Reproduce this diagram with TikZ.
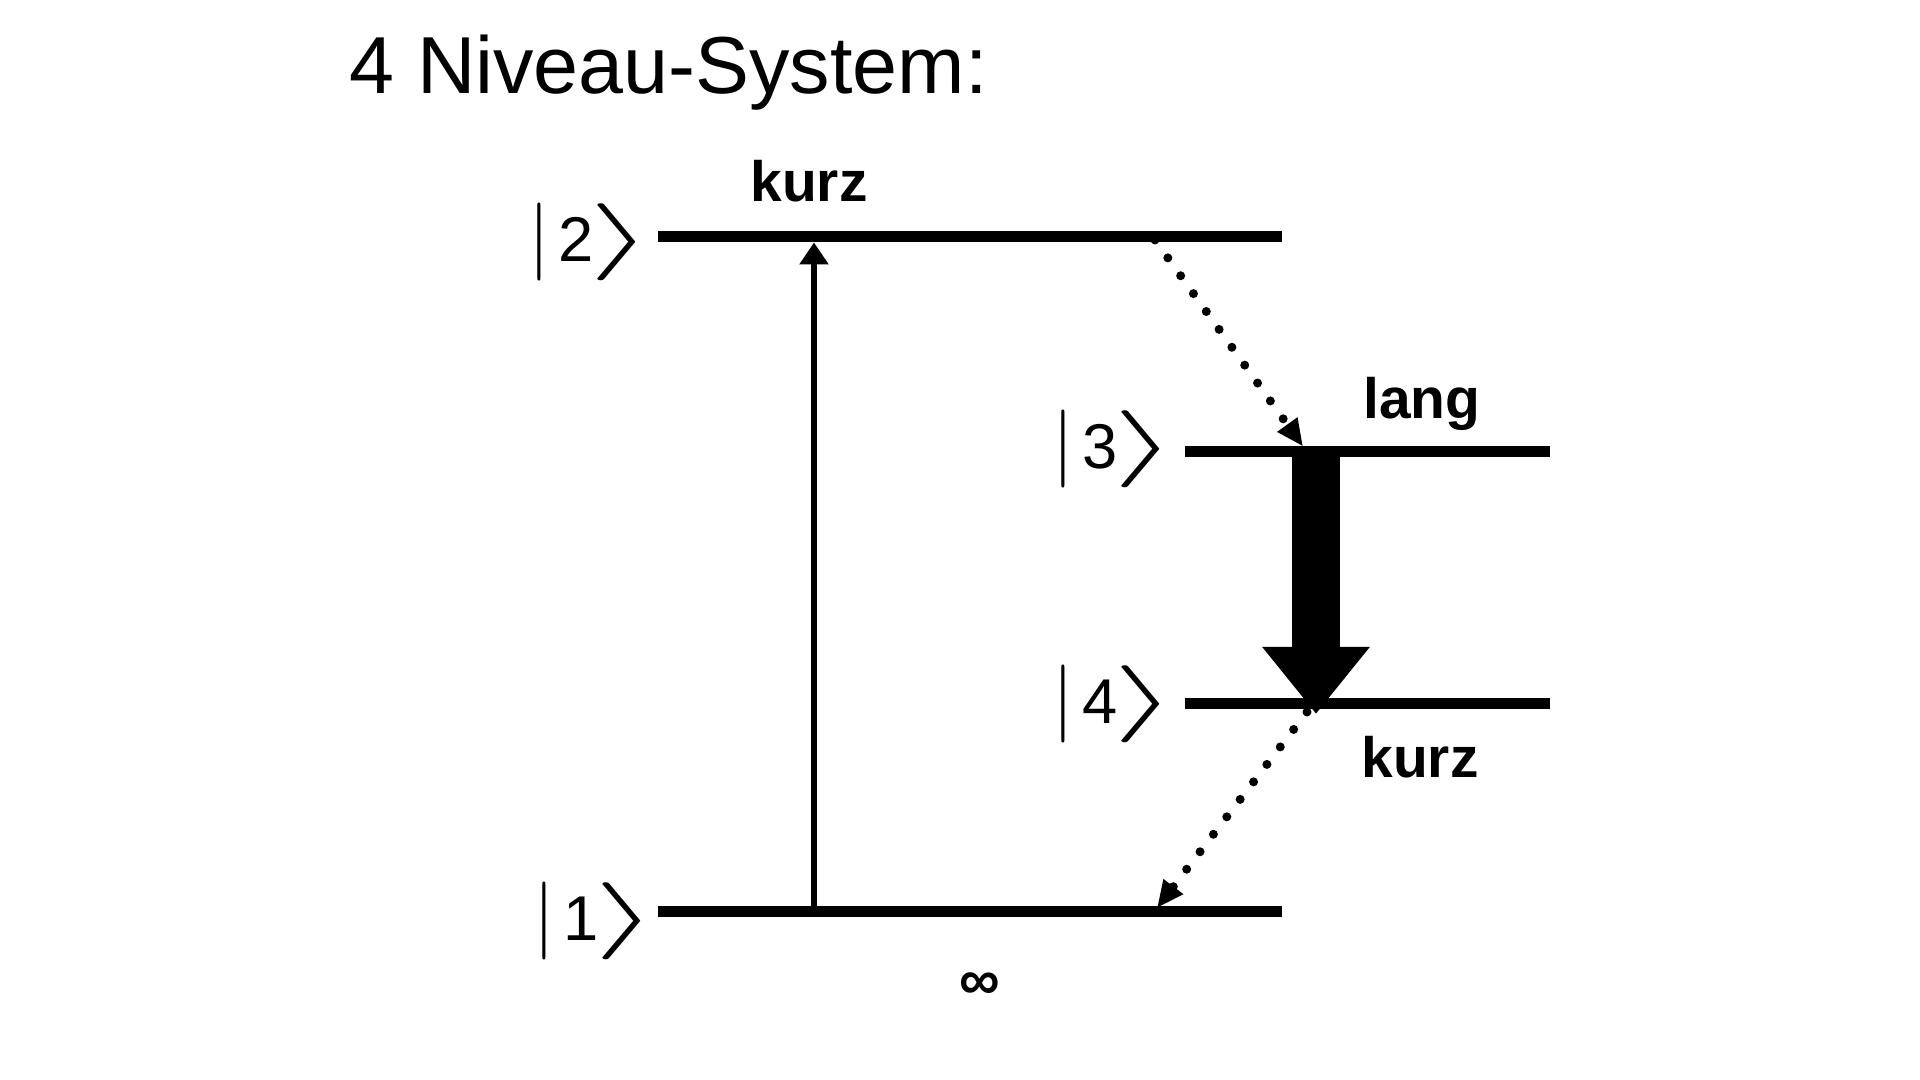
\documentclass[tikz,border=0pt]{standalone}
\usepackage{fontspec}
\setmainfont{Liberation Sans}
\usepackage{graphicx}
\usetikzlibrary{arrows.meta}
\newcommand{\ketsym}[1]{\resizebox*{!}{0.78cm}{$|$}\kern0.08cm#1\kern-0.05cm\resizebox*{0.66cm}{0.77cm}{$\rangle$}}
\begin{document}
\begin{tikzpicture}[x=1cm,y=1cm,
  lvline/.style={line width=0.11cm},
  ket/.style={inner sep=0pt, font=\fontsize{18}{22}\selectfont},
  lbl/.style={inner sep=0pt, anchor=base, font=\fontsize{16.2}{20}\selectfont\bfseries},
  decay/.style={line width=0.09cm, line cap=round, dash pattern=on 0pt off 0.22cm,
    -{Triangle[length=0.27cm,width=0.23cm]}},
  pump/.style={line width=0.06cm, -{Triangle[length=0.22cm,width=0.28cm]}},
  laser/.style={line width=0.48cm, -{Triangle[length=0.67cm,width=1.03cm]}}]
\useasboundingbox (0,0) rectangle (19.2,10.8);
\fill[white] (0,0) rectangle (19.2,10.8);

% title
\node[anchor=base west, inner sep=0pt, font=\fontsize{23}{28}\selectfont] (title) at (3.49,9.86) {4 Niveau-System:};

% level coordinates
\coordinate (L2a) at (6.58,8.43);  \coordinate (L2b) at (12.82,8.43);
\coordinate (L1a) at (6.58,1.68);  \coordinate (L1b) at (12.82,1.68);
\coordinate (L3a) at (11.85,6.28); \coordinate (L3b) at (15.50,6.28);
\coordinate (L4a) at (11.85,3.76); \coordinate (L4b) at (15.50,3.76);

\draw[lvline] (L2a) -- (L2b);
\draw[lvline] (L1a) -- (L1b);
\draw[lvline] (L3a) -- (L3b);
\draw[lvline] (L4a) -- (L4b);

% kets
\node[ket] (k2) at (5.915,8.38) {\ketsym{2}};
\node[ket] (k1) at (5.965,1.59) {\ketsym{1}};
\node[ket] (k3) at (11.155,6.31) {\ketsym{3}};
\node[ket] (k4) at (11.155,3.76) {\ketsym{4}};

% labels
\node[lbl] (t2) at (8.09,8.78) {kurz};
\node[lbl] (t3) at (14.22,6.61) {lang};
\node[lbl] (t4) at (14.20,3.02) {kurz};
\node[inner sep=0pt, font=\fontsize{16.2}{20}\selectfont\bfseries] (t1) at (9.80,0.94) {∞};

% transitions
\coordinate (pS) at (8.14,1.68);  \coordinate (pE) at (8.14,8.375);
\coordinate (d1S) at (11.55,8.40); \coordinate (d1E) at (13.03,6.335);
\coordinate (lS) at (13.16,6.28); \coordinate (lE) at (13.16,3.66);
\coordinate (d2S) at (13.07,3.68); \coordinate (d2E) at (11.57,1.72);

\draw[pump] (pS) -- (pE);
\draw[decay] (d1S) -- (d1E);
\draw[laser] (lS) -- (lE);
\draw[decay] (d2S) -- (d2E);
\end{tikzpicture}
\end{document}
